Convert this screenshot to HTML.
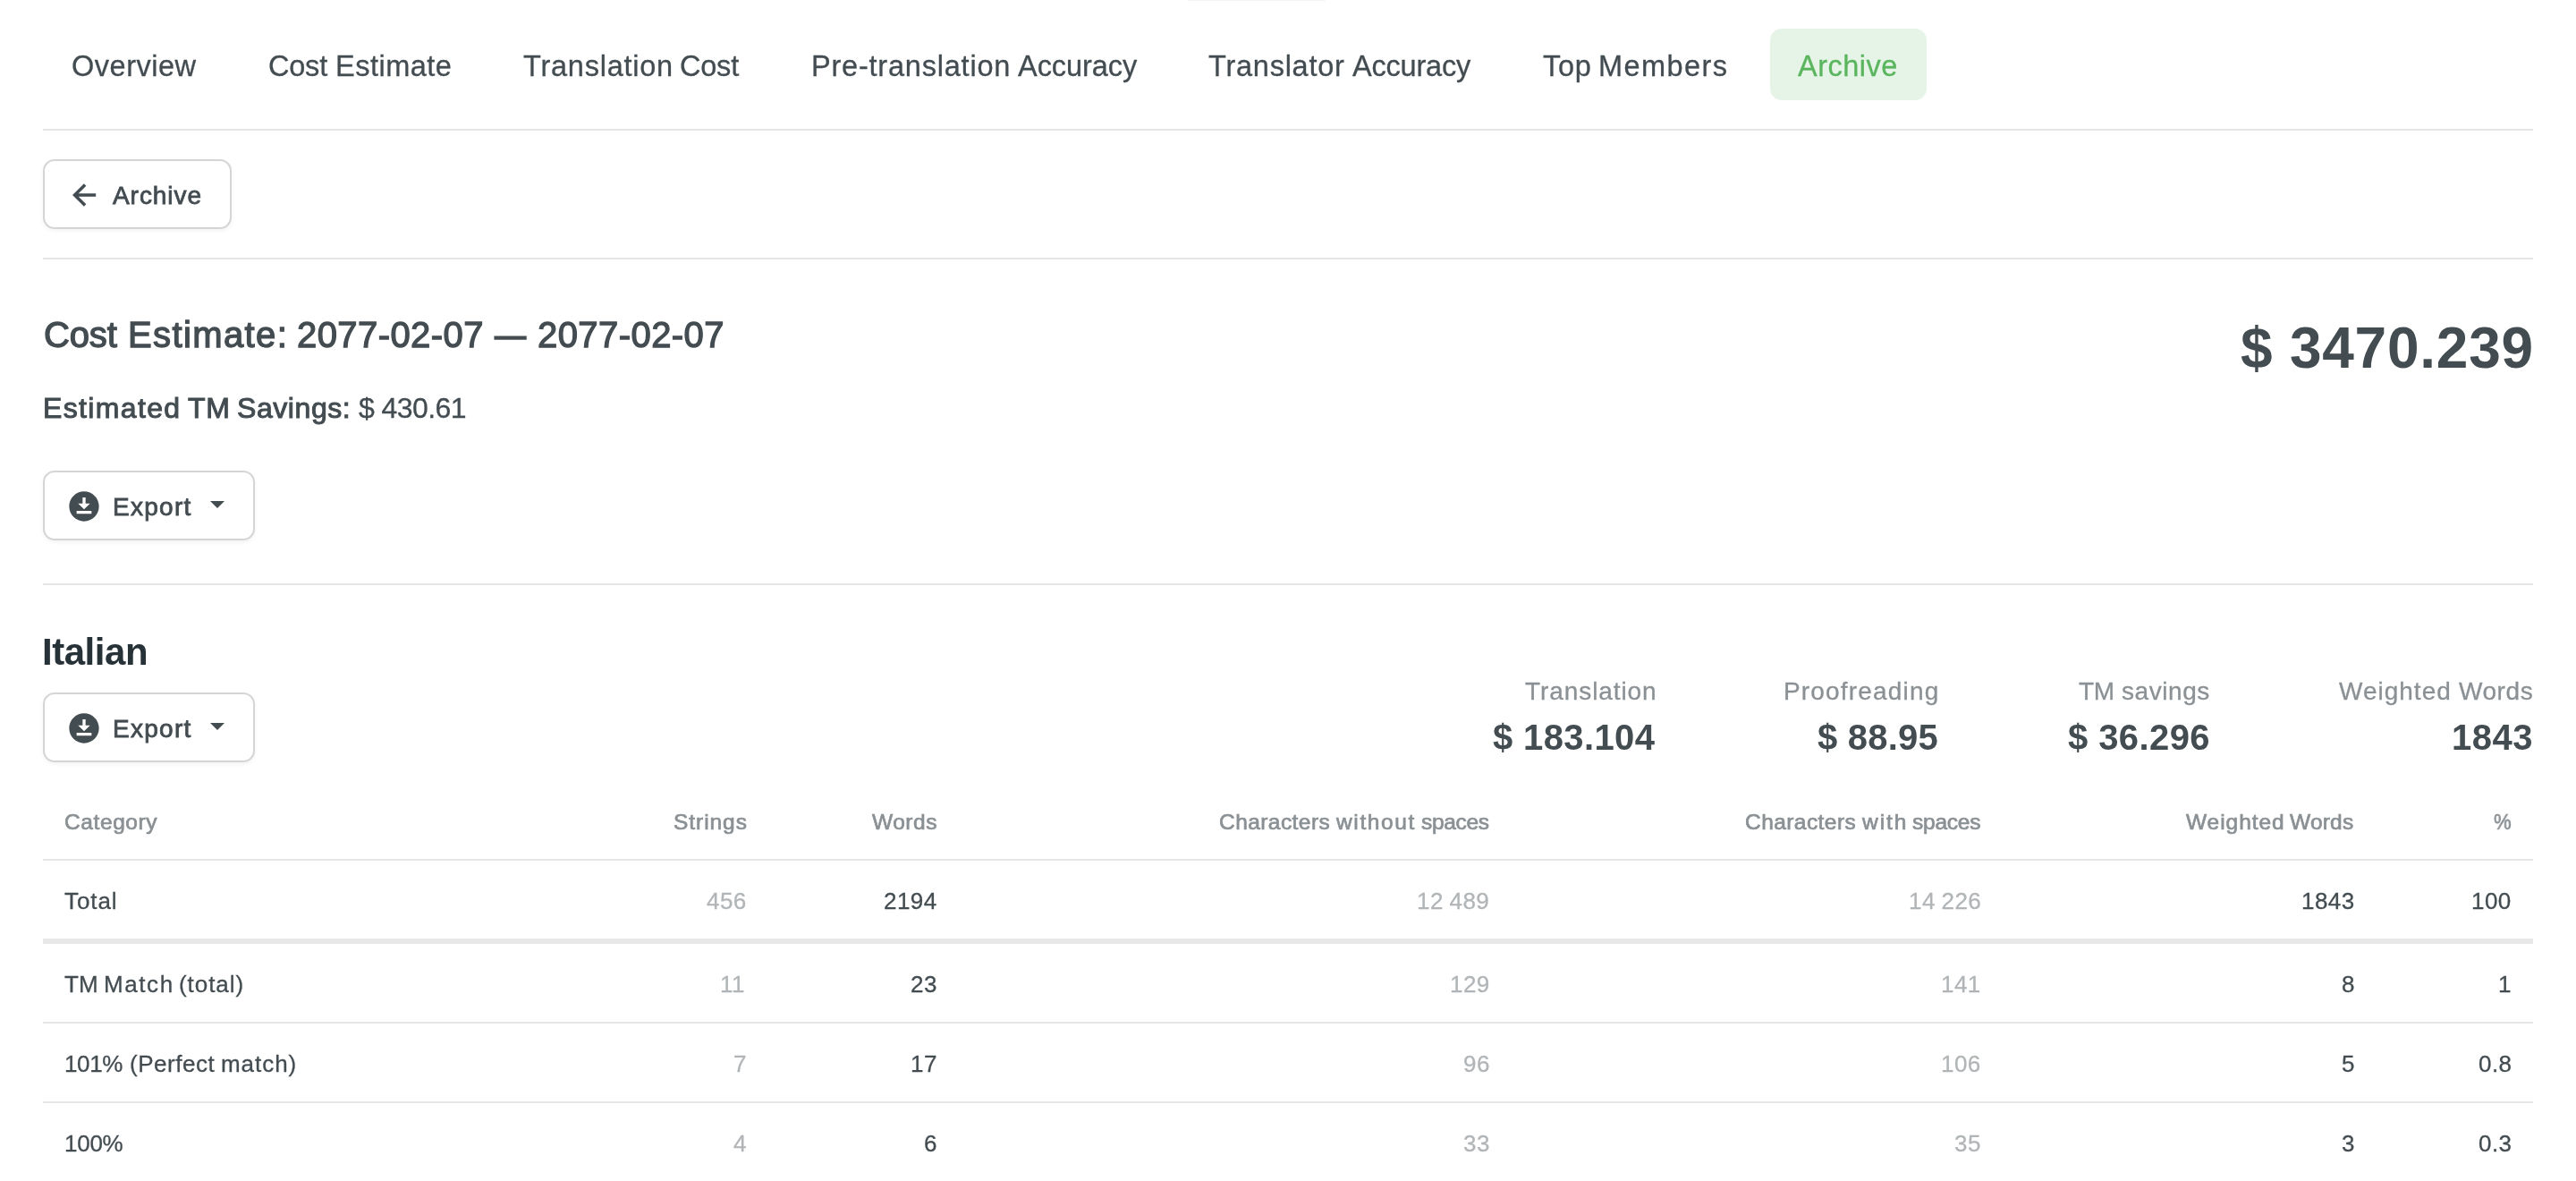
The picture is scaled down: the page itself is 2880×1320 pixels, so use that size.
<!DOCTYPE html>
<html lang="en">
<head>
<meta charset="utf-8">
<title>Cost Estimate Archive</title>
<style>
html,body{margin:0;padding:0;background:#fff;}
body{width:2880px;height:1320px;position:relative;overflow:hidden;font-family:"Liberation Sans",sans-serif;}
.t{position:absolute;white-space:nowrap;line-height:1;font-kerning:normal;will-change:transform;}
.hr{position:absolute;left:48px;width:2784px;height:2px;background:#e6e6e6;}
.btn{position:absolute;box-sizing:border-box;border:2px solid #d5d5d5;border-radius:13px;background:#fff;box-shadow:0 2px 5px rgba(0,0,0,.05);}
.tab{position:absolute;left:1979px;top:32px;width:175px;height:80px;border-radius:13px;background:#e6f4e8;}
svg{position:absolute;overflow:visible;}
</style>
</head>
<body>
<div style="position:absolute;left:1328px;top:0;width:153px;height:1px;background:#f3f3f3;box-shadow:0 1px 3px rgba(0,0,0,.04)"></div>
<div class="tab"></div>
<div class="hr" style="top:144px"></div>
<div class="btn" style="left:48px;top:178px;width:211px;height:78px"></div>
<svg style="left:78px;top:202px" width="32" height="32" viewBox="0 0 32 32"><path d="M29.2 16H6M17.1 4.4L5.5 16l11.6 11.6" fill="none" stroke="#434c51" stroke-width="3.5"/></svg>
<div class="hr" style="top:288px"></div>
<div class="btn" style="left:48px;top:526px;width:237px;height:78px"></div>
<svg style="left:74px;top:545.8px" width="40" height="40" viewBox="0 0 24 24"><path fill="#434c51" d="M12 2C6.49 2 2 6.49 2 12s4.49 10 10 10 10-4.49 10-10S17.51 2 12 2zm-1 8V6h2v4h3l-4 4-4-4h3zm6 7H7v-2h10v2z"/></svg>
<svg style="left:235px;top:560px" width="16" height="8" viewBox="0 0 16 8"><path fill="#434c51" d="M0 0h16L8 8z"/></svg>
<div class="hr" style="top:652px"></div>
<div class="btn" style="left:48px;top:774px;width:237px;height:78px"></div>
<svg style="left:74px;top:793.8px" width="40" height="40" viewBox="0 0 24 24"><path fill="#434c51" d="M12 2C6.49 2 2 6.49 2 12s4.49 10 10 10 10-4.49 10-10S17.51 2 12 2zm-1 8V6h2v4h3l-4 4-4-4h3zm6 7H7v-2h10v2z"/></svg>
<svg style="left:235px;top:808px" width="16" height="8" viewBox="0 0 16 8"><path fill="#434c51" d="M0 0h16L8 8z"/></svg>
<div class="hr" style="top:960px"></div>
<div class="hr" style="top:1049px;height:6px;background:#e8e8e8"></div>
<div class="hr" style="top:1142px"></div>
<div class="hr" style="top:1231px"></div>
<div id="g_n1"><span class="t" id="n1" style="left:80.00px;top:58.00px;font-size:32.5px;color:#434c51;letter-spacing:0.514px;-webkit-text-stroke:0.3px #434c51;">Overview</span></div>
<div id="g_n2"><span class="t" id="n2_0" style="left:299.88px;top:58.00px;font-size:32.5px;color:#434c51;letter-spacing:-0.221px;-webkit-text-stroke:0.3px #434c51;">Cost</span> <span class="t" id="n2_1" style="left:374.94px;top:58.00px;font-size:32.5px;color:#434c51;letter-spacing:0.502px;-webkit-text-stroke:0.3px #434c51;">Estimate</span></div>
<div id="g_n3"><span class="t" id="n3_0" style="left:584.94px;top:58.00px;font-size:32.5px;color:#434c51;letter-spacing:0.763px;-webkit-text-stroke:0.3px #434c51;">Translation</span> <span class="t" id="n3_1" style="left:759.94px;top:58.00px;font-size:32.5px;color:#434c51;letter-spacing:-0.215px;-webkit-text-stroke:0.3px #434c51;">Cost</span></div>
<div id="g_n4"><span class="t" id="n4_0" style="left:906.94px;top:58.00px;font-size:32.5px;color:#434c51;letter-spacing:0.786px;-webkit-text-stroke:0.3px #434c51;">Pre-translation</span> <span class="t" id="n4_1" style="left:1137.94px;top:58.00px;font-size:32.5px;color:#434c51;letter-spacing:-0.052px;-webkit-text-stroke:0.3px #434c51;">Accuracy</span></div>
<div id="g_n5"><span class="t" id="n5_0" style="left:1350.94px;top:58.00px;font-size:32.5px;color:#434c51;letter-spacing:0.752px;-webkit-text-stroke:0.3px #434c51;">Translator</span> <span class="t" id="n5_1" style="left:1511.94px;top:58.00px;font-size:32.5px;color:#434c51;letter-spacing:-0.207px;-webkit-text-stroke:0.3px #434c51;">Accuracy</span></div>
<div id="g_n6"><span class="t" id="n6_0" style="left:1724.91px;top:58.00px;font-size:32.5px;color:#434c51;letter-spacing:0.710px;-webkit-text-stroke:0.3px #434c51;">Top</span> <span class="t" id="n6_1" style="left:1786.94px;top:58.00px;font-size:32.5px;color:#434c51;letter-spacing:1.414px;-webkit-text-stroke:0.3px #434c51;">Members</span></div>
<div id="g_n7"><span class="t" id="n7" style="left:2009.94px;top:58.00px;font-size:32.5px;color:#5ab55e;letter-spacing:0.503px;-webkit-text-stroke:0.3px #5ab55e;">Archive</span></div>
<div id="g_b1"><span class="t" id="b1" style="left:126.00px;top:204.80px;font-size:28px;color:#434c51;letter-spacing:0.949px;-webkit-text-stroke:0.8px #434c51;">Archive</span></div>
<div id="g_h1"><span class="t" id="h1_0" style="left:48.94px;top:353.80px;font-size:40px;color:#434c51;letter-spacing:-0.167px;-webkit-text-stroke:1.3px #434c51;">Cost</span> <span class="t" id="h1_1" style="left:142.91px;top:353.80px;font-size:40px;color:#434c51;letter-spacing:1.392px;-webkit-text-stroke:1.3px #434c51;">Estimate:</span> <span class="t" id="h1_2" style="left:331.94px;top:353.80px;font-size:40px;color:#434c51;letter-spacing:0.419px;-webkit-text-stroke:1.3px #434c51;">2077-02-07</span> <span class="t" id="h1_3" style="left:552.94px;top:353.80px;font-size:40px;color:#434c51;transform:scaleX(0.88);transform-origin:0 0;-webkit-text-stroke:1.3px #434c51;">—</span> <span class="t" id="h1_4" style="left:600.94px;top:353.80px;font-size:40px;color:#434c51;letter-spacing:0.433px;-webkit-text-stroke:1.3px #434c51;">2077-02-07</span></div>
<div id="g_s1"><span class="t" id="s1_0" style="left:48.00px;top:439.80px;font-size:32px;color:#434c51;letter-spacing:1.358px;-webkit-text-stroke:1.0px #434c51;">Estimated</span> <span class="t" id="s1_1" style="left:209.91px;top:439.80px;font-size:32px;color:#434c51;letter-spacing:0.600px;-webkit-text-stroke:1.0px #434c51;">TM</span> <span class="t" id="s1_2" style="left:264.94px;top:439.80px;font-size:32px;color:#434c51;letter-spacing:0.571px;-webkit-text-stroke:1.0px #434c51;">Savings:</span></div>
<div id="g_s2"><span class="t" id="s2" style="left:400.94px;top:439.80px;font-size:32px;color:#434c51;letter-spacing:-0.571px;-webkit-text-stroke:0.3px #434c51;">$ 430.61</span></div>
<div id="g_p1"><span class="t" id="p1" style="left:2504.91px;top:357.10px;font-size:64px;color:#434c51;font-weight:700;letter-spacing:0.753px;">$ 3470.239</span></div>
<div id="g_e1"><span class="t" id="e1" style="left:125.94px;top:552.50px;font-size:28px;color:#434c51;letter-spacing:1.280px;-webkit-text-stroke:0.8px #434c51;">Export</span></div>
<div id="g_it"><span class="t" id="it" style="left:46.94px;top:708.30px;font-size:42px;color:#263238;font-weight:700;letter-spacing:-0.465px;">Italian</span></div>
<div id="g_e2"><span class="t" id="e2" style="left:125.94px;top:800.80px;font-size:28px;color:#434c51;letter-spacing:1.280px;-webkit-text-stroke:0.8px #434c51;">Export</span></div>
<div id="g_l1"><span class="t" id="l1" style="left:1704.91px;top:758.70px;font-size:28px;color:#8a9094;letter-spacing:0.920px;-webkit-text-stroke:0.3px #8a9094;">Translation</span></div>
<div id="g_v1"><span class="t" id="v1" style="left:1668.91px;top:803.80px;font-size:40px;color:#434c51;font-weight:700;letter-spacing:0.375px;">$ 183.104</span></div>
<div id="g_l2"><span class="t" id="l2" style="left:1993.91px;top:758.70px;font-size:28px;color:#8a9094;letter-spacing:1.182px;-webkit-text-stroke:0.3px #8a9094;">Proofreading</span></div>
<div id="g_v2"><span class="t" id="v2" style="left:2031.94px;top:803.80px;font-size:40px;color:#434c51;font-weight:700;letter-spacing:0.202px;">$ 88.95</span></div>
<div id="g_l3"><span class="t" id="l3_0" style="left:2323.94px;top:758.70px;font-size:28px;color:#8a9094;letter-spacing:-0.400px;-webkit-text-stroke:0.3px #8a9094;">TM</span> <span class="t" id="l3_1" style="left:2371.88px;top:758.70px;font-size:28px;color:#8a9094;letter-spacing:0.565px;-webkit-text-stroke:0.3px #8a9094;">savings</span></div>
<div id="g_v3"><span class="t" id="v3" style="left:2311.94px;top:803.80px;font-size:40px;color:#434c51;font-weight:700;letter-spacing:0.412px;">$ 36.296</span></div>
<div id="g_l4"><span class="t" id="l4_0" style="left:2614.91px;top:758.70px;font-size:28px;color:#8a9094;letter-spacing:1.000px;-webkit-text-stroke:0.3px #8a9094;">Weighted</span> <span class="t" id="l4_1" style="left:2748.88px;top:758.70px;font-size:28px;color:#8a9094;letter-spacing:0.560px;-webkit-text-stroke:0.3px #8a9094;">Words</span></div>
<div id="g_v4"><span class="t" id="v4" style="left:2741.00px;top:803.80px;font-size:40px;color:#434c51;font-weight:700;letter-spacing:0.532px;">1843</span></div>
<div id="g_th1"><span class="t" id="th1" style="left:71.94px;top:907.00px;font-size:24.5px;color:#8a9094;letter-spacing:0.597px;-webkit-text-stroke:0.7px #8a9094;">Category</span></div>
<div id="g_th2"><span class="t" id="th2" style="left:752.91px;top:907.00px;font-size:24.5px;color:#8a9094;letter-spacing:0.949px;-webkit-text-stroke:0.7px #8a9094;">Strings</span></div>
<div id="g_th3"><span class="t" id="th3" style="left:974.94px;top:907.00px;font-size:24.5px;color:#8a9094;letter-spacing:0.525px;-webkit-text-stroke:0.7px #8a9094;">Words</span></div>
<div id="g_th4"><span class="t" id="th4_0" style="left:1362.94px;top:907.00px;font-size:24.5px;color:#8a9094;letter-spacing:0.433px;-webkit-text-stroke:0.7px #8a9094;">Characters</span> <span class="t" id="th4_1" style="left:1493.94px;top:907.00px;font-size:24.5px;color:#8a9094;letter-spacing:1.633px;-webkit-text-stroke:0.7px #8a9094;">without</span> <span class="t" id="th4_2" style="left:1588.91px;top:907.00px;font-size:24.5px;color:#8a9094;letter-spacing:-0.320px;-webkit-text-stroke:0.7px #8a9094;">spaces</span></div>
<div id="g_th5"><span class="t" id="th5_0" style="left:1950.91px;top:907.00px;font-size:24.5px;color:#8a9094;letter-spacing:0.433px;-webkit-text-stroke:0.7px #8a9094;">Characters</span> <span class="t" id="th5_1" style="left:2081.91px;top:907.00px;font-size:24.5px;color:#8a9094;letter-spacing:1.935px;-webkit-text-stroke:0.7px #8a9094;">with</span> <span class="t" id="th5_2" style="left:2138.00px;top:907.00px;font-size:24.5px;color:#8a9094;letter-spacing:-0.240px;-webkit-text-stroke:0.7px #8a9094;">spaces</span></div>
<div id="g_th6"><span class="t" id="th6_0" style="left:2444.00px;top:907.00px;font-size:24.5px;color:#8a9094;letter-spacing:0.941px;-webkit-text-stroke:0.7px #8a9094;">Weighted</span> <span class="t" id="th6_1" style="left:2560.00px;top:907.00px;font-size:24.5px;color:#8a9094;letter-spacing:0.200px;-webkit-text-stroke:0.7px #8a9094;">Words</span></div>
<div id="g_th7"><span class="t" id="th7" style="left:2787.88px;top:907.00px;font-size:24.5px;color:#8a9094;transform:scaleX(0.9);transform-origin:0 0;-webkit-text-stroke:0.7px #8a9094;">%</span></div>
<div id="g_r0c0"><span class="t" id="r0c0" style="left:71.91px;top:994.00px;font-size:26px;color:#434c51;letter-spacing:0.925px;-webkit-text-stroke:0.3px #434c51;">Total</span></div>
<div id="g_r0c1"><span class="t" id="r0c1" style="left:789.79px;top:994.00px;font-size:26px;color:#b1b5b7;letter-spacing:0.416px;word-spacing:-0.884px;-webkit-text-stroke:0.3px #b1b5b7;">456</span></div>
<div id="g_r0c2"><span class="t" id="r0c2" style="left:988.22px;top:994.00px;font-size:26px;color:#434c51;letter-spacing:0.416px;word-spacing:-0.884px;-webkit-text-stroke:0.3px #434c51;">2194</span></div>
<div id="g_r0c3"><span class="t" id="r0c3" style="left:1584.49px;top:994.00px;font-size:26px;color:#b1b5b7;letter-spacing:0.416px;word-spacing:-0.884px;-webkit-text-stroke:0.3px #b1b5b7;">12 489</span></div>
<div id="g_r0c4"><span class="t" id="r0c4" style="left:2133.89px;top:994.00px;font-size:26px;color:#b1b5b7;letter-spacing:0.416px;word-spacing:-0.884px;-webkit-text-stroke:0.3px #b1b5b7;">14 226</span></div>
<div id="g_r0c5"><span class="t" id="r0c5" style="left:2573.22px;top:994.00px;font-size:26px;color:#434c51;letter-spacing:0.416px;word-spacing:-0.884px;-webkit-text-stroke:0.3px #434c51;">1843</span></div>
<div id="g_r0c6"><span class="t" id="r0c6" style="left:2763.09px;top:994.00px;font-size:26px;color:#434c51;letter-spacing:0.416px;word-spacing:-0.884px;-webkit-text-stroke:0.3px #434c51;">100</span></div>
<div id="g_r1c0"><span class="t" id="r1c0_0" style="left:71.94px;top:1087.00px;font-size:26px;color:#434c51;-webkit-text-stroke:0.3px #434c51;">TM</span> <span class="t" id="r1c0_1" style="left:115.94px;top:1087.00px;font-size:26px;color:#434c51;letter-spacing:1.575px;-webkit-text-stroke:0.3px #434c51;">Match</span> <span class="t" id="r1c0_2" style="left:199.88px;top:1087.00px;font-size:26px;color:#434c51;letter-spacing:0.935px;-webkit-text-stroke:0.3px #434c51;">(total)</span></div>
<div id="g_r1c1"><span class="t" id="r1c1" style="left:804.66px;top:1087.00px;font-size:26px;color:#b1b5b7;letter-spacing:0.416px;word-spacing:-0.884px;-webkit-text-stroke:0.3px #b1b5b7;">11</span></div>
<div id="g_r1c2"><span class="t" id="r1c2" style="left:1017.96px;top:1087.00px;font-size:26px;color:#434c51;letter-spacing:0.416px;word-spacing:-0.884px;-webkit-text-stroke:0.3px #434c51;">23</span></div>
<div id="g_r1c3"><span class="t" id="r1c3" style="left:1620.99px;top:1087.00px;font-size:26px;color:#b1b5b7;letter-spacing:0.416px;word-spacing:-0.884px;-webkit-text-stroke:0.3px #b1b5b7;">129</span></div>
<div id="g_r1c4"><span class="t" id="r1c4" style="left:2170.39px;top:1087.00px;font-size:26px;color:#b1b5b7;letter-spacing:0.416px;word-spacing:-0.884px;-webkit-text-stroke:0.3px #b1b5b7;">141</span></div>
<div id="g_r1c5"><span class="t" id="r1c5" style="left:2617.84px;top:1087.00px;font-size:26px;color:#434c51;letter-spacing:0.416px;word-spacing:-0.884px;-webkit-text-stroke:0.3px #434c51;">8</span></div>
<div id="g_r1c6"><span class="t" id="r1c6" style="left:2792.84px;top:1087.00px;font-size:26px;color:#434c51;letter-spacing:0.416px;word-spacing:-0.884px;-webkit-text-stroke:0.3px #434c51;">1</span></div>
<div id="g_r2c0"><span class="t" id="r2c0_0" style="left:72.00px;top:1176.20px;font-size:26px;color:#434c51;letter-spacing:-0.369px;-webkit-text-stroke:0.3px #434c51;">101%</span> <span class="t" id="r2c0_1" style="left:144.88px;top:1176.20px;font-size:26px;color:#434c51;letter-spacing:0.513px;-webkit-text-stroke:0.3px #434c51;">(Perfect</span> <span class="t" id="r2c0_2" style="left:246.88px;top:1176.20px;font-size:26px;color:#434c51;letter-spacing:0.960px;-webkit-text-stroke:0.3px #434c51;">match)</span></div>
<div id="g_r2c1"><span class="t" id="r2c1" style="left:819.54px;top:1176.20px;font-size:26px;color:#b1b5b7;letter-spacing:0.416px;word-spacing:-0.884px;-webkit-text-stroke:0.3px #b1b5b7;">7</span></div>
<div id="g_r2c2"><span class="t" id="r2c2" style="left:1017.96px;top:1176.20px;font-size:26px;color:#434c51;letter-spacing:0.416px;word-spacing:-0.884px;-webkit-text-stroke:0.3px #434c51;">17</span></div>
<div id="g_r2c3"><span class="t" id="r2c3" style="left:1635.86px;top:1176.20px;font-size:26px;color:#b1b5b7;letter-spacing:0.416px;word-spacing:-0.884px;-webkit-text-stroke:0.3px #b1b5b7;">96</span></div>
<div id="g_r2c4"><span class="t" id="r2c4" style="left:2170.39px;top:1176.20px;font-size:26px;color:#b1b5b7;letter-spacing:0.416px;word-spacing:-0.884px;-webkit-text-stroke:0.3px #b1b5b7;">106</span></div>
<div id="g_r2c5"><span class="t" id="r2c5" style="left:2617.84px;top:1176.20px;font-size:26px;color:#434c51;letter-spacing:0.416px;word-spacing:-0.884px;-webkit-text-stroke:0.3px #434c51;">5</span></div>
<div id="g_r2c6"><span class="t" id="r2c6" style="left:2771.00px;top:1176.20px;font-size:26px;color:#434c51;letter-spacing:0.416px;word-spacing:-0.884px;-webkit-text-stroke:0.3px #434c51;">0.8</span></div>
<div id="g_r3c0"><span class="t" id="r3c0" style="left:72.00px;top:1265.30px;font-size:26px;color:#434c51;letter-spacing:-0.252px;-webkit-text-stroke:0.3px #434c51;">100%</span></div>
<div id="g_r3c1"><span class="t" id="r3c1" style="left:819.54px;top:1265.30px;font-size:26px;color:#b1b5b7;letter-spacing:0.416px;word-spacing:-0.884px;-webkit-text-stroke:0.3px #b1b5b7;">4</span></div>
<div id="g_r3c2"><span class="t" id="r3c2" style="left:1032.84px;top:1265.30px;font-size:26px;color:#434c51;letter-spacing:0.416px;word-spacing:-0.884px;-webkit-text-stroke:0.3px #434c51;">6</span></div>
<div id="g_r3c3"><span class="t" id="r3c3" style="left:1635.86px;top:1265.30px;font-size:26px;color:#b1b5b7;letter-spacing:0.416px;word-spacing:-0.884px;-webkit-text-stroke:0.3px #b1b5b7;">33</span></div>
<div id="g_r3c4"><span class="t" id="r3c4" style="left:2185.26px;top:1265.30px;font-size:26px;color:#b1b5b7;letter-spacing:0.416px;word-spacing:-0.884px;-webkit-text-stroke:0.3px #b1b5b7;">35</span></div>
<div id="g_r3c5"><span class="t" id="r3c5" style="left:2617.84px;top:1265.30px;font-size:26px;color:#434c51;letter-spacing:0.416px;word-spacing:-0.884px;-webkit-text-stroke:0.3px #434c51;">3</span></div>
<div id="g_r3c6"><span class="t" id="r3c6" style="left:2771.00px;top:1265.30px;font-size:26px;color:#434c51;letter-spacing:0.416px;word-spacing:-0.884px;-webkit-text-stroke:0.3px #434c51;">0.3</span></div>
</body>
</html>
